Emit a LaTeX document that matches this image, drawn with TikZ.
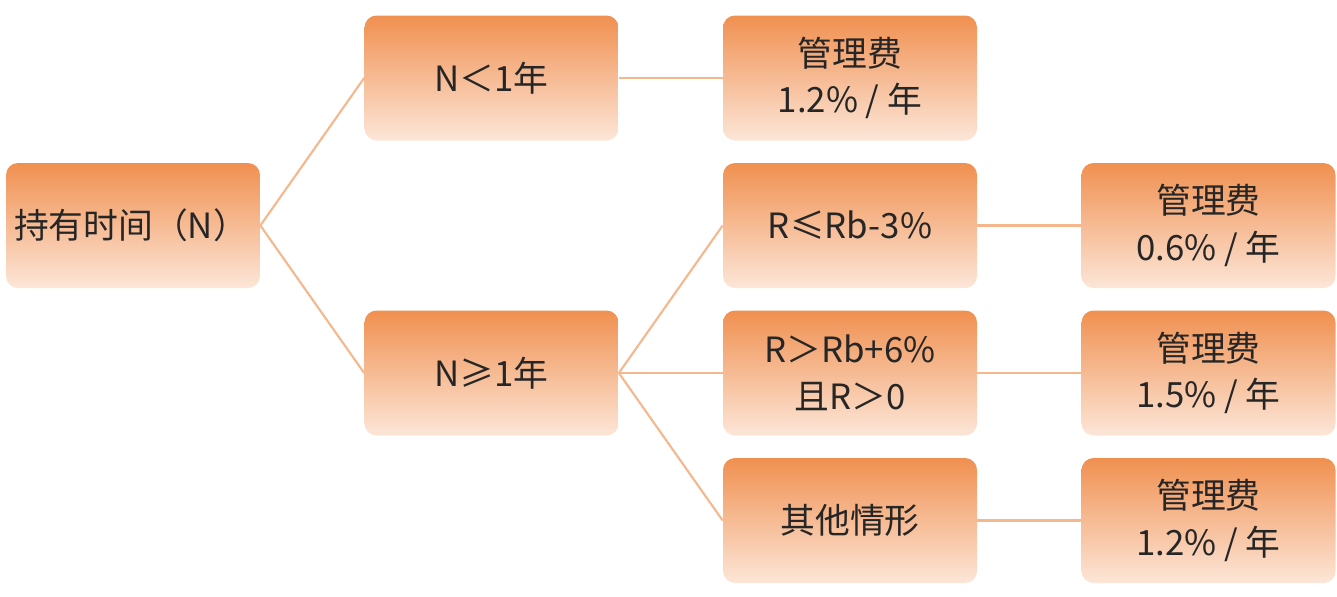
\documentclass[tikz,border=0pt]{standalone}
\usepackage{fontspec}
\setmainfont{Noto Sans CJK SC}
\usepackage{xcolor}
\usepackage{tikz}
\usetikzlibrary{shapes.geometric, arrows, positioning}
\definecolor{feetop}{RGB}{240,144,80}
\definecolor{feemid}{RGB}{243,166,112}
\definecolor{feebot}{RGB}{252,230,216}
\definecolor{feeline}{RGB}{245,183,140}
\definecolor{feetext}{RGB}{38,38,38}
\tikzstyle{box} = [rectangle, rounded corners=0.24cm, minimum width=5.08cm, minimum height=2.5cm, text centered, align=center, top color=feetop, middle color=feemid, bottom color=feebot, text=feetext, font=\fontsize{19.8}{26.5}\selectfont]
\tikzstyle{rootbox} = [box, text width=4.76cm, inner xsep=0.16cm, align=left]
\tikzstyle{link} = [draw=feeline, line width=1.2pt]

\begin{document}
\begin{tikzpicture}[node distance=7.17cm]
\useasboundingbox (0,0) rectangle (26.74,-11.92);
\node (hold) [rootbox] at (2.66,-4.51) {持有时间（N）};
\node (short) [box, right of=hold, yshift=2.95cm] {N＜1年};
\node (long) [box, right of=hold, yshift=-2.95cm] {N≥1年};

\node (fee1) [box, right of=short] {管理费\\1.2\% / 年};
\node (low) [box, right of=long, yshift=2.95cm] {R≤Rb-3\%};
\node (high) [box, right of=long] {R＞Rb+6\%\\且R＞0};
\node (other) [box, right of=long, yshift=-2.95cm] {其他情形};

\node (fee2) [box, right of=low] {管理费\\0.6\% / 年};
\node (fee3) [box, right of=high] {管理费\\1.5\% / 年};
\node (fee4) [box, right of=other] {管理费\\1.2\% / 年};

\draw [link] (hold.east) -- (short.west);
\draw [link] (hold.east) -- (long.west);
\draw [link] (short.east) -- (fee1.west);
\draw [link] (long.east) -- (low.west);
\draw [link] (long.east) -- (high.west);
\draw [link] (long.east) -- (other.west);
\draw [link] (low.east) -- (fee2.west);
\draw [link] (high.east) -- (fee3.west);
\draw [link] (other.east) -- (fee4.west);

\end{tikzpicture}
\end{document}
